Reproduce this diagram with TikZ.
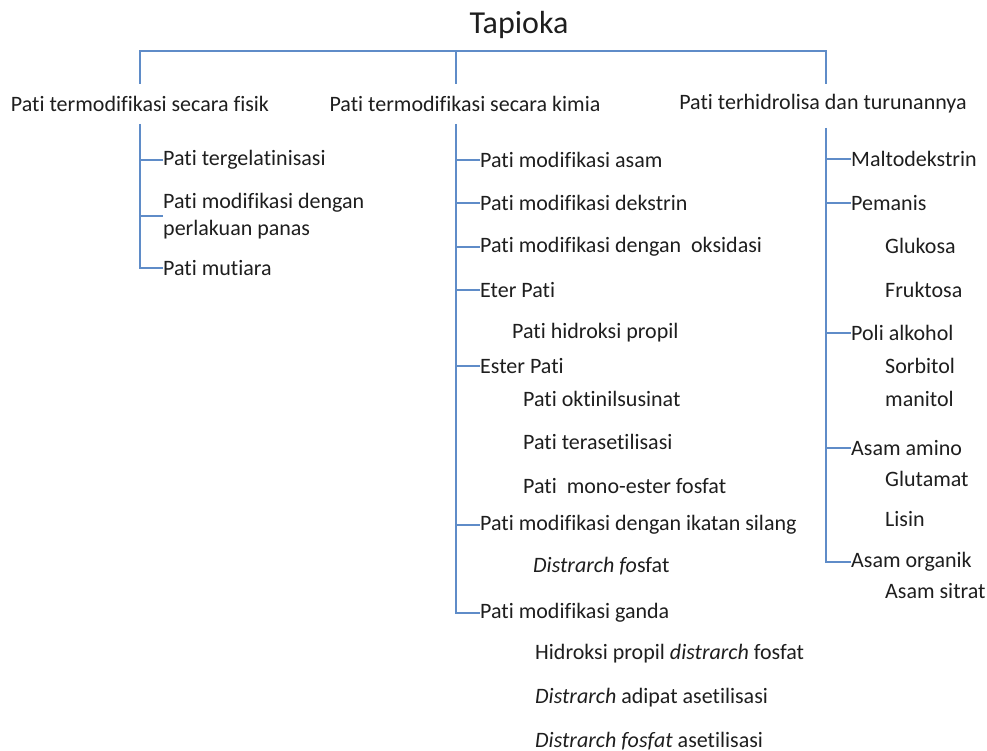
\documentclass[tikz,border=0pt]{standalone}
\usepackage{fontspec}
\setmainfont{Carlito}[Ligatures=NoCommon]
\usetikzlibrary{positioning}
\definecolor{treeblue}{RGB}{95,140,200}
\definecolor{txtgray}{RGB}{30,30,30}

\begin{document}
\begin{tikzpicture}[x=1pt, y=-1pt,
    line/.style={treeblue, line width=1.6pt},
    item/.style={anchor=west, inner sep=0pt, text=txtgray, font=\fontsize{22}{27}\selectfont},
    head/.style={item, anchor=center}]
    \useasboundingbox (0,0) rectangle (987,751);

    % Title
    \node[head, font=\fontsize{32}{38}\selectfont] (tapioka) at (519,25) {Tapioka};

    % Main groups
    \node[head] (fisik) at (140,104) {Pati termodifikasi secara fisik};
    \node[head] (kimia) at (465,104) {Pati termodifikasi secara kimia};
    \node[head] (hidro) at (823,104) {Pati terhidrolisa dan turunannya};

    % Top bracket
    \coordinate (bar) at (519,51);
    \coordinate (fup) at (140,84);
    \coordinate (kup) at (456,84);
    \coordinate (hup) at (826,84);
    \draw[line] (fup) |- (bar) -| (hup);
    \draw[line] (kup) -- (kup |- bar);

    % Physical modification
    \node[item] (tergel) at (163,160) {Pati tergelatinisasi};
    \node[item, align=left] (panas) at (163,216) {Pati modifikasi dengan\\perlakuan panas};
    \node[item] (mutiara) at (163,268) {Pati mutiara};

    \coordinate (ftop) at (140,124);
    \draw[line] (ftop) |- (mutiara.west);
    \draw[line] (ftop |- tergel.west) -- (tergel.west);
    \draw[line] (ftop |- panas.west) -- (panas.west);

    % Chemical modification
    \node[item] (asam) at (480,160) {Pati modifikasi asam};
    \node[item] (dekstrin) at (480,203) {Pati modifikasi dekstrin};
    \node[item] (oksidasi) at (480,247) {Pati modifikasi dengan\ \ oksidasi};
    \node[item] (eter) at (480,290) {Eter Pati};
    \node[item] (propil) at (512,333) {Pati hidroksi propil};
    \node[item] (ester) at (480,366) {Ester Pati};
    \node[item] (oktinil) at (523,399) {Pati oktinilsusinat};
    \node[item] (asetil) at (523,442) {Pati terasetilisasi};
    \node[item] (monoester) at (523,486) {Pati\ \ mono-ester fosfat};
    \node[item] (silang) at (480,525) {Pati modifikasi dengan ikatan silang};
    \node[item] (dfosfat) at (533,566) {\textit{Distrarch fo}sfat};
    \node[item] (ganda) at (480,613) {Pati modifikasi ganda};
    \node[item] (hpdf) at (535,654) {Hidroksi propil \textit{distrarch} fosfat};
    \node[item] (adipat) at (535,698) {\textit{Distrarch} adipat asetilisasi};
    \node[item] (dfasetil) at (535,741) {\textit{Distrarch fosfat} asetilisasi};

    \coordinate (ktop) at (456,124);
    \draw[line] (ktop) |- (ganda.west);
    \foreach \n in {asam,dekstrin,oksidasi,eter,ester,silang}
        \draw[line] (ktop |- \n.west) -- (\n.west);

    % Hydrolysed starch
    \node[item] (malto) at (851,159) {Maltodekstrin};
    \node[item] (pemanis) at (851,203) {Pemanis};
    \node[item] (glukosa) at (885,246) {Glukosa};
    \node[item] (fruktosa) at (885,290) {Fruktosa};
    \node[item] (poli) at (851,333) {Poli alkohol};
    \node[item] (sorbitol) at (885,366) {Sorbitol};
    \node[item] (manitol) at (885,399) {manitol};
    \node[item] (amino) at (851,448) {Asam amino};
    \node[item] (glutamat) at (885,479) {Glutamat};
    \node[item] (lisin) at (885,519) {Lisin};
    \node[item] (organik) at (851,562) {Asam organik};
    \node[item] (sitrat) at (885,591) {Asam sitrat};

    \coordinate (htop) at (826,128);
    \draw[line] (htop) |- (organik.west);
    \foreach \n in {malto,pemanis,poli,amino}
        \draw[line] (htop |- \n.west) -- (\n.west);
\end{tikzpicture}
\end{document}
